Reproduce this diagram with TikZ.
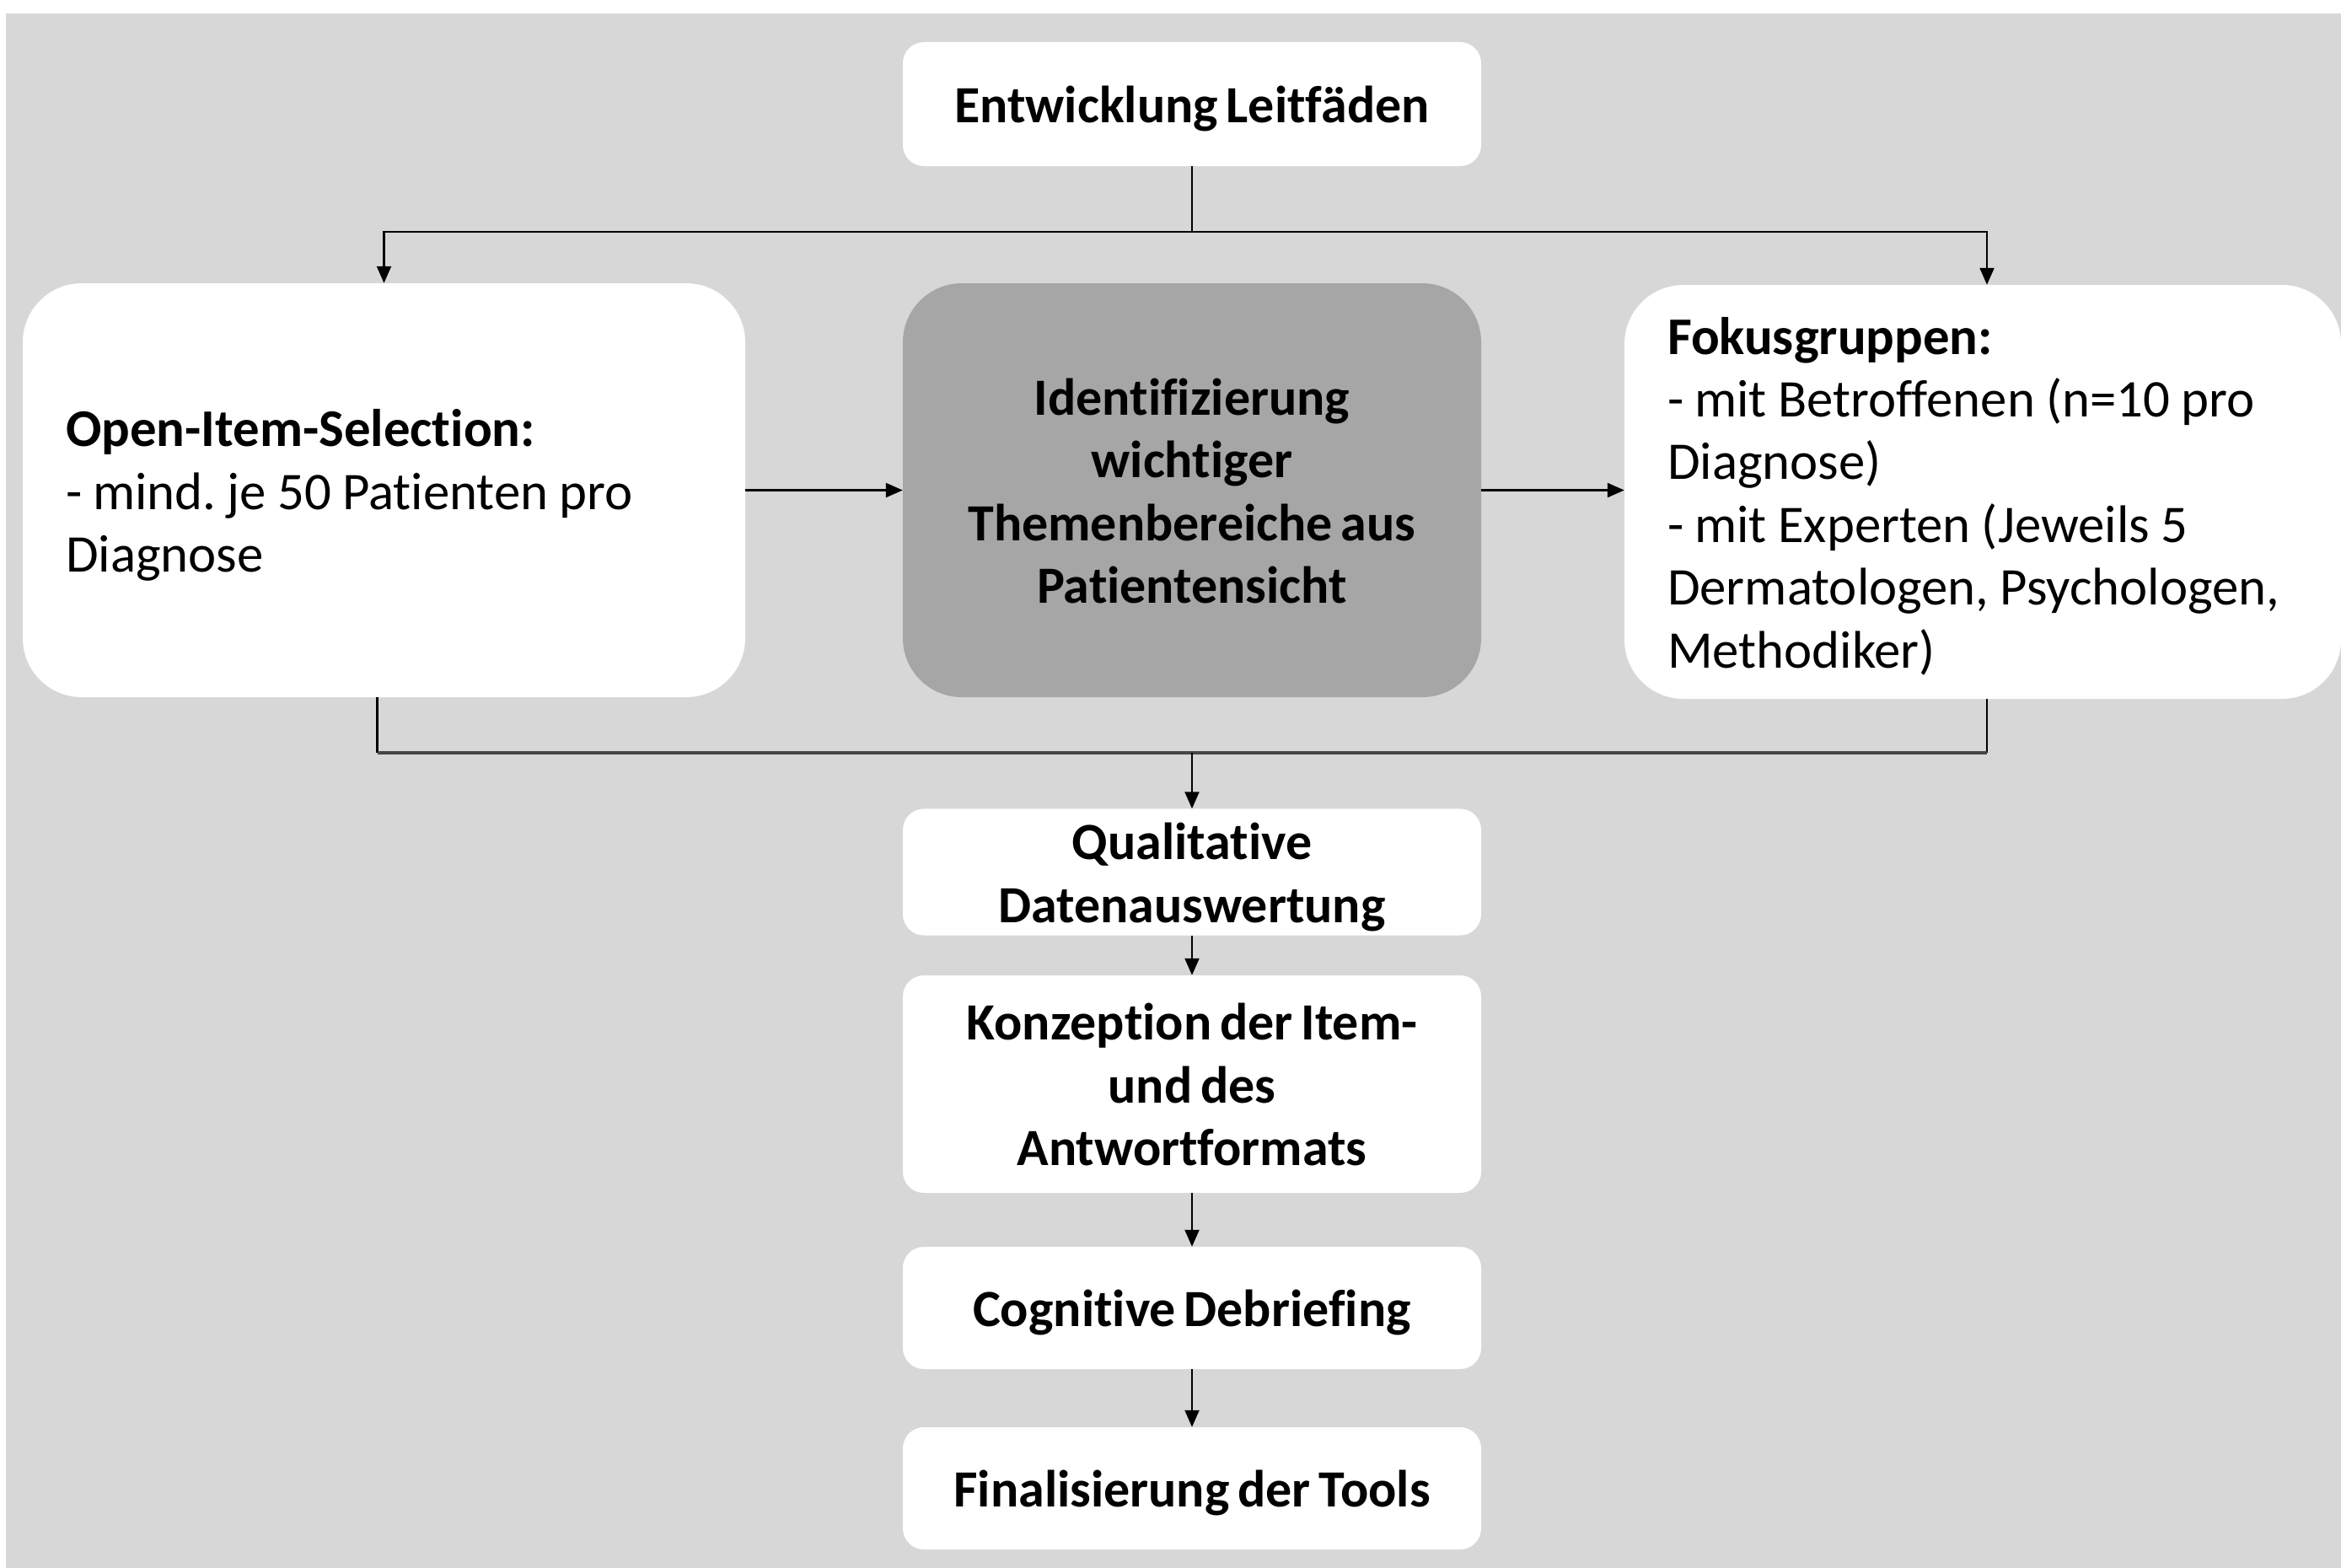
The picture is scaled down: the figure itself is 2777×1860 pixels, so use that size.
\documentclass[tikz,border=0pt]{standalone}
\usepackage{fontspec}
\setmainfont{Carlito}[Ligatures={NoCommon},WordSpace={0.7,0,0}]
\usetikzlibrary{arrows.meta,calc}
\definecolor{bggray}{RGB}{215,215,215}
\definecolor{boxgray}{RGB}{166,166,166}
\definecolor{hgray}{RGB}{70,70,70}
\newcommand{\fs}{\rule{0pt}{0.97em}}
\newcommand{\ld}{\rule[-0.25em]{0pt}{0pt}}
\newcommand{\tightsp}{\spaceskip=0.21em\relax\xspaceskip=0.21em\relax}
\begin{document}
\begin{tikzpicture}[x=1pt,y=-1pt,
  every node/.style={font=\fontsize{62}{74.4}\selectfont\frenchspacing},
  wbox/.style={draw=none,fill=white,rounded corners=25pt,minimum width=686pt,inner sep=0pt,align=center,font=\fontsize{62}{74.4}\selectfont\bfseries},
  bigbox/.style={draw=none,fill=white,rounded corners=70pt,minimum height=491pt,inner xsep=51pt,inner ysep=0pt,align=left,font=\fontsize{62.8}{74.4}\selectfont\frenchspacing},
  conn/.style={line width=2.2pt,black},
  arr/.style={conn,-{Triangle[length=20pt,width=17pt]}},
  hconn/.style={line width=3.2pt,hgray}
]
\useasboundingbox (0,0) rectangle (2777,1860);
\fill[white] (0,0) rectangle (2777,1860);
\fill[bggray] (7,16) rectangle (2777,1860);

\node[wbox,minimum height=147pt] (top) at (1414,123.5) {\fs Entwicklung Leitfäden\ld};
\node[bigbox,text width=755pt] (left) at (455.5,581.5)
  {\tightsp\fs\textbf{Open-Item-Selection:}\\\mbox{- mind. je 50 Patienten pro}\\Diagnose\ld};
\node[wbox,fill=boxgray,rounded corners=70pt,minimum height=491pt] (mid) at (1414,581.5)
  {\fs Identifizierung\\wichtiger\\Themenbereiche aus\\Patientensicht\ld};
\node[bigbox,text width=748pt] (right) at (2352,583.5)
  {\tightsp\fs\textbf{Fokusgruppen:}\\\mbox{- mit Betroffenen (n=10 pro}\\Diagnose)\\\mbox{- mit Experten (Jeweils 5}\\\mbox{Dermatologen, Psychologen,}\\Methodiker)\ld};
\node[wbox,minimum height=145pt] (qual) at (1414,1034.5) {\fs Qualitative\\Datenauswertung\ld};
\node[wbox,minimum height=258pt] (konz) at (1414,1286) {\fs Konzeption der Item-\\und des\\Antwortformats\ld};
\node[wbox,minimum height=145pt] (cog) at (1414,1551.5) {\fs Cognitive Debriefing\ld};
\node[wbox,minimum height=145pt] (fin) at (1414,1765.5) {\fs Finalisierung der Tools\ld};

% top split
\coordinate (split) at (1414,275);
\coordinate (rtop) at ($(right.north)+(5,0)$);
\coordinate (rbot) at ($(right.south)+(5,0)$);
\draw[conn] (top.south) -- (split);
\draw[arr] (split) -| (left.north);
\draw[arr] (split) -| (rtop);

% horizontal flow
\draw[arr] (left.east) -- (mid.west);
\draw[arr] (mid.east) -- (right.west |- mid.east);

% bottom join
\coordinate (join) at (1414,893);
\coordinate (lb) at ($(left.south)+(-8,0)$);
\draw[conn] (lb) -- (lb |- join);
\draw[conn] (rbot) -- (rbot |- join);
\draw[hconn] (lb |- join) -- (rbot |- join);
\draw[arr] (join) -- (qual.north);

% vertical chain
\draw[arr] (qual.south) -- (konz.north);
\draw[arr] (konz.south) -- (cog.north);
\draw[arr] (cog.south) -- (fin.north);
\end{tikzpicture}
\end{document}
